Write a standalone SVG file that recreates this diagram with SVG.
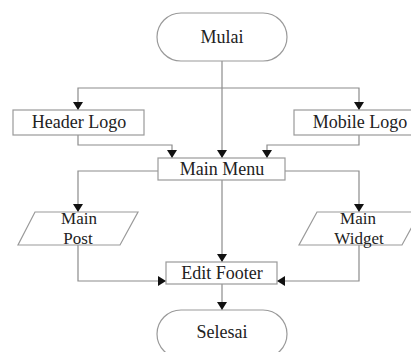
<svg xmlns="http://www.w3.org/2000/svg" width="411" height="352" viewBox="0 0 411 352">
  <style>
    .shape { fill: #ffffff; stroke: #9a9a9a; stroke-width: 1.2; }
    .link { fill: none; stroke: #8c8c8c; stroke-width: 1.2; }
    .label { font-family: "Liberation Serif", "Times New Roman", serif; font-size: 18px; fill: #222222; text-anchor: middle; }
    .label.two { font-size: 17px; }
  </style>
  <defs>
    <marker id="arrow" viewBox="0 0 8 10" refX="8" refY="5" markerWidth="8" markerHeight="10" markerUnits="userSpaceOnUse" orient="auto">
      <path d="M0,0 L8,5 L0,10 Z" fill="#111111"/>
    </marker>
  </defs>
  <rect width="411" height="352" fill="#ffffff"/>

  <!-- connectors -->
  <g id="connectors">
    <path class="link" d="M222,61 V158" marker-end="url(#arrow)"/>
    <path class="link" d="M222,88 H78 V110" marker-end="url(#arrow)"/>
    <path class="link" d="M222,88 H359 V110" marker-end="url(#arrow)"/>
    <path class="link" d="M78,135 V145 H172 V158" marker-end="url(#arrow)"/>
    <path class="link" d="M359,135 V145 H267 V158" marker-end="url(#arrow)"/>
    <path class="link" d="M158,171 H78 V212" marker-end="url(#arrow)"/>
    <path class="link" d="M285,171 H359 V212" marker-end="url(#arrow)"/>
    <path class="link" d="M222,180 V262" marker-end="url(#arrow)"/>
    <path class="link" d="M78,245 V281 H166" marker-end="url(#arrow)"/>
    <path class="link" d="M359,245 V281 H277" marker-end="url(#arrow)"/>
    <path class="link" d="M222,284 V310" marker-end="url(#arrow)"/>
  </g>

  <g id="mulai">
    <rect class="shape" x="157" y="13" width="130" height="48" rx="24" ry="24"/>
    <text class="label" x="222" y="43">Mulai</text>
  </g>

  <g id="header-logo">
    <rect class="shape" x="13" y="110" width="131" height="25"/>
    <text class="label" x="79" y="128">Header Logo</text>
  </g>

  <g id="mobile-logo">
    <rect class="shape" x="294" y="110" width="131" height="25"/>
    <text class="label" x="360" y="128">Mobile Logo</text>
  </g>

  <g id="main-menu">
    <rect class="shape" x="158" y="158" width="127" height="22"/>
    <text class="label" x="222" y="175">Main Menu</text>
  </g>

  <g id="main-post">
    <polygon class="shape" points="35,212 138,212 120,245 18,245"/>
    <text class="label two" x="79" y="224">Main</text>
    <text class="label two" x="78" y="243.5">Post</text>
  </g>

  <g id="main-widget">
    <polygon class="shape" points="317,212 420,212 402,245 299,245"/>
    <text class="label two" x="358" y="224">Main</text>
    <text class="label two" x="359" y="243.5">Widget</text>
  </g>

  <g id="edit-footer">
    <rect class="shape" x="166" y="262" width="111" height="22"/>
    <text class="label" x="222" y="279">Edit Footer</text>
  </g>

  <g id="selesai">
    <rect class="shape" x="157" y="310" width="130" height="48" rx="24" ry="24"/>
    <text class="label" x="222" y="338">Selesai</text>
  </g>
</svg>
